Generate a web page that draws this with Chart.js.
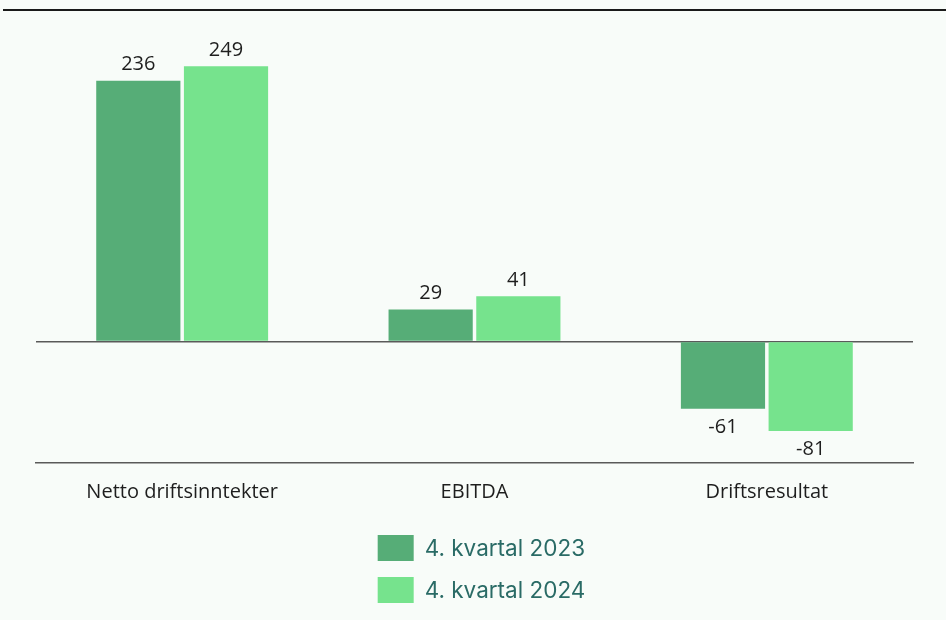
<!DOCTYPE html>
<html>
<head>
<meta charset="utf-8">
<script src="https://cdn.jsdelivr.net/npm/chart.js@4"></script>
<style>
  html, body { margin: 0; padding: 0; background: #ffffff; }
  #wrap { position: relative; width: 946px; height: 620px; background: #f8fcf9; }
  canvas { display: block; }
</style>
</head>
<body>
<div id="wrap"><canvas id="chart" width="946" height="620"></canvas></div>
<script>
const categories = ["Netto driftsinntekter", "EBITDA", "Driftsresultat"];
const seriesNames = ["4. kvartal 2023", "4. kvartal 2024"];
const values2023 = [236, 29, -61];
const values2024 = [249, 41, -81];
const seriesColors = ["#56ad77", "#76e38d"];

// value labels above / below each bar
const valueLabels = {
    id: "valueLabels",
    afterDatasetsDraw(chart) {
        const ctx = chart.ctx;
        ctx.save();
        ctx.font = "20px 'Open Sans', sans-serif";
        ctx.fillStyle = "#1e1e1e";
        ctx.textAlign = "center";
        chart.data.datasets.forEach((ds, i) => {
            chart.getDatasetMeta(i).data.forEach((bar, j) => {
                const v = ds.data[j];
                if (v >= 0) {
                    ctx.textBaseline = "bottom";
                    ctx.fillText(String(v), bar.x, bar.y - 6);
                } else {
                    ctx.textBaseline = "top";
                    ctx.fillText(String(v), bar.x, bar.y + 8);
                }
            });
        });
        ctx.restore();
    }
};

// top rule and stacked legend under the axis
const extras = {
    id: "extras",
    afterDraw(chart) {
        const ctx = chart.ctx;
        const area = chart.chartArea;
        ctx.save();
        ctx.strokeStyle = "#1a1a1a";
        ctx.lineWidth = 2;
        ctx.beginPath();
        ctx.moveTo(3, 10);
        ctx.lineTo(chart.width, 10);
        ctx.stroke();

        ctx.font = "22.5px Inter, 'Noto Sans', sans-serif";
        const textW = Math.max(...seriesNames.map(n => ctx.measureText(n).width));
        const boxW = 36, boxH = 26, gap = 11;
        const startX = (area.left + area.right) / 2 - (boxW + gap + textW) / 2 + 7;
        const rows = [548, 590];
        chart.data.datasets.forEach((ds, i) => {
            const cy = rows[i];
            ctx.fillStyle = ds.backgroundColor;
            ctx.fillRect(startX, cy - boxH / 2, boxW, boxH);
            ctx.fillStyle = "#2a6b66";
            ctx.textAlign = "left";
            ctx.textBaseline = "middle";
            ctx.fillText(ds.label, startX + boxW + gap, cy + 1);
        });
        ctx.restore();
    }
};

new Chart(document.getElementById("chart"), {
    type: "bar",
    data: {
        labels: categories,
        datasets: [
            { label: seriesNames[0], data: values2023, backgroundColor: seriesColors[0] },
            { label: seriesNames[1], data: values2024, backgroundColor: seriesColors[1] }
        ]
    },
    options: {
        responsive: false,
        animation: false,
        devicePixelRatio: 1,
        categoryPercentage: 0.6,
        barPercentage: 0.96,
        layout: { padding: { left: 36, right: 33, top: 32, bottom: 107 } },
        plugins: {
            legend: { display: false },
            tooltip: { enabled: false }
        },
        scales: {
            x: {
                grid: { display: false },
                border: { display: true, color: "#5a5a5a", width: 1.5 },
                ticks: {
                    padding: 9,
                    color: "#1e1e1e",
                    font: { family: "'Open Sans', sans-serif", size: 20 }
                }
            },
            y: {
                min: -110,
                max: 280,
                ticks: { display: false, stepSize: 10 },
                border: { display: false },
                grid: {
                    drawTicks: false,
                    lineWidth: 1.5,
                    color: (c) => (c.tick && c.tick.value === 0 ? "#5a5a5a" : "transparent")
                }
            }
        }
    },
    plugins: [valueLabels, extras]
});
</script>
</body>
</html>
